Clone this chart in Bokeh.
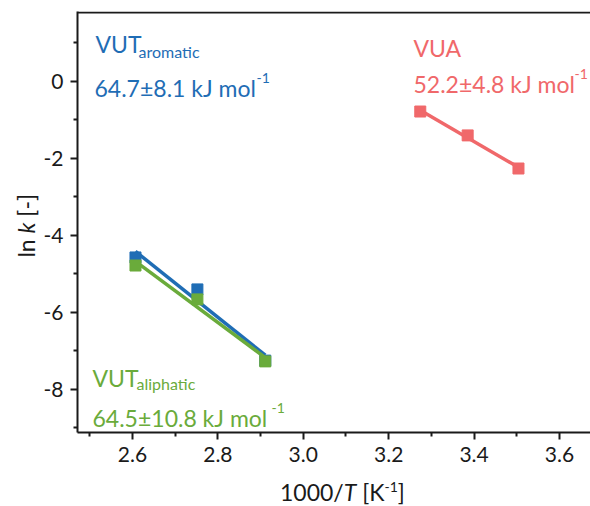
import numpy as np
from bokeh.plotting import figure
from bokeh.models import Label, Span, FixedTicker, Range1d, Div
from bokeh.layouts import row, column
from bokeh.embed import file_html
from bokeh.resources import INLINE

# ---------------- data ----------------
inv_T_vut = [2.607, 2.752, 2.911]
lnk_vut_aromatic = [-4.57, -5.40, -7.25]
lnk_vut_aliphatic = [-4.78, -5.66, -7.27]
inv_T_vua = [3.274, 3.385, 3.504]
lnk_vua = [-0.78, -1.40, -2.26]

x_ticks = [2.6, 2.8, 3.0, 3.2, 3.4, 3.6]
x_tick_labels = ["2.6", "2.8", "3.0", "3.2", "3.4", "3.6"]
x_minor = [2.5, 2.7, 2.9, 3.1, 3.3, 3.5]
y_ticks = [-8, -6, -4, -2, 0]
y_tick_labels = ["-8", "-6", "-4", "-2", "0"]
y_minor = [-9, -7, -5, -3, -1, 1]

BLUE = "#1f6db5"
GREEN = "#6aab3b"
RED = "#f0686a"
INK = "#1a1a1a"
FONT = "Lato"

# ---------------- layout ----------------
YDIV_W = 40          # width of the column holding the y title
XDIV_H = 28          # height of the row holding the x title
W, H = 590 - YDIV_W, 506 - XDIV_H
BL, BR, BT = 77 - YDIV_W, 0, 11
BB = H - 432          # frame bottom at page y 432
X0, X1 = 2.4712, 3.6727
Y0, Y1 = -9.117, 1.818
OFFX, OFFY = YDIV_W, 0  # canvas origin in page pixels

p = figure(width=W, height=H, x_range=Range1d(X0, X1), y_range=Range1d(Y0, Y1),
           min_border_left=BL, min_border_right=BR, min_border_top=BT, min_border_bottom=BB,
           output_backend="svg", toolbar_location=None, margin=0)
p.grid.visible = False
p.outline_line_color = None
p.background_fill_color = "white"
p.border_fill_color = "white"

FW = W - BL - BR
FH = H - BT - BB


def px2x(px):  # page px -> data x
    return X0 + (px - OFFX - BL) / FW * (X1 - X0)


def px2y(py):  # page px -> data y
    return Y1 - (py - OFFY - BT) / FH * (Y1 - Y0)


for ax in (p.xaxis[0], p.yaxis[0]):
    ax.axis_line_width = 2
    ax.axis_line_color = INK
    ax.major_tick_line_width = 2
    ax.minor_tick_line_width = 2
    ax.major_tick_line_color = INK
    ax.minor_tick_line_color = INK
    ax.major_tick_in = 0
    ax.major_tick_out = 7
    ax.minor_tick_in = 0
    ax.minor_tick_out = 4
    ax.major_label_text_font = FONT
    ax.major_label_text_font_size = "21px"
    ax.major_label_text_color = INK
    ax.major_label_standoff = 7

p.xaxis.ticker = FixedTicker(ticks=x_ticks, minor_ticks=x_minor)
p.yaxis.ticker = FixedTicker(ticks=y_ticks, minor_ticks=y_minor)
p.xaxis.major_label_overrides = {t: s for t, s in zip(x_ticks, x_tick_labels)}
p.yaxis.major_label_overrides = {t: s for t, s in zip(y_ticks, y_tick_labels)}

# top spine
p.add_layout(Span(location=Y1 - 1.0 / FH * (Y1 - Y0), dimension="width",
                  line_color=INK, line_width=2))


# ---------------- fit lines + markers ----------------
def fit_line(xs, ys):
    k, b = np.polyfit(xs, ys, 1)
    xx = [min(xs), max(xs)]
    return xx, [k * v + b for v in xx]


for xs, ys, c in ((inv_T_vut, lnk_vut_aromatic, BLUE),
                  (inv_T_vut, lnk_vut_aliphatic, GREEN),
                  (inv_T_vua, lnk_vua, RED)):
    fx, fy = fit_line(xs, ys)
    p.line(fx, fy, line_color=c, line_width=3.5)
    p.scatter(xs, ys, marker="square", size=11, fill_color=c, line_color=c)


# ---------------- texts inside the frame ----------------
def put(text, px, py, color, size, style="normal"):
    p.add_layout(Label(x=px2x(px), y=px2y(py), text=text, text_color=color,
                       text_font=FONT, text_font_size=f"{size}px", text_font_style=style,
                       text_align="left", text_baseline="alphabetic"))


# VUT aromatic
put("VUT", 95, 43, BLUE, 23)
put("aromatic", 138, 51, BLUE, 16)
put("64.7±8.1 kJ mol", 94, 87, BLUE, 23)
put("-1", 256, 77, BLUE, 14)

# VUA
put("VUA", 413, 47, RED, 23)
put("52.2±4.8 kJ mol", 413, 83, RED, 23)
put("-1", 574, 73, RED, 14)

# VUT aliphatic
put("VUT", 92, 377, GREEN, 23)
put("aliphatic", 136, 383, GREEN, 16)
put("64.5±10.8 kJ mol", 92, 417, GREEN, 23)
put("-1", 271, 407, GREEN, 14)

# ---------------- axis titles (HTML text beside the figure) ----------------
ytitle = Div(
    width=YDIV_W, height=H, margin=0,
    text=(f'<span style="display:inline-block; position:relative; left:14px; top:194px; '
          f'writing-mode:vertical-rl; transform:rotate(180deg); font-family:{FONT}; '
          f'font-size:23px; line-height:24px; color:{INK}; white-space:nowrap">'
          'ln <i>k</i> [-]</span>'),
)
xtitle = Div(
    width=W, height=XDIV_H, margin=0,
    text=(f'<div style="padding-left:{280 - OFFX}px; padding-top:3px; font-family:{FONT}; '
          f'font-size:23px; line-height:23px; color:{INK}; white-space:nowrap">'
          '1000/<i>T</i> [K<sup style="font-size:14px; line-height:0; vertical-align:9px">-1</sup>]</div>'),
)

layout = row(ytitle, column(p, xtitle, spacing=0, margin=0), spacing=0, margin=0)

open("out.html", "w").write(file_html(layout, INLINE))
